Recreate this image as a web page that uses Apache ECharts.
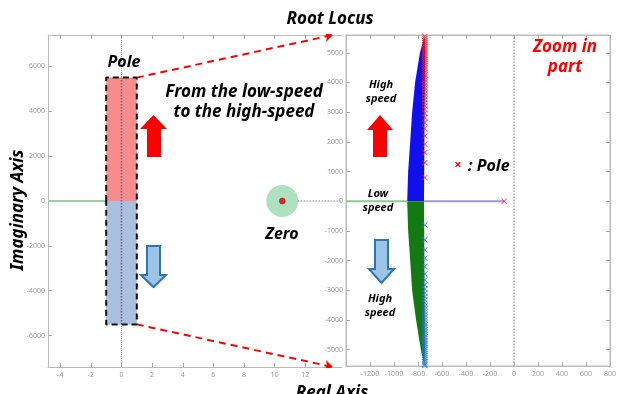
<!DOCTYPE html>
<html><head><meta charset="utf-8">
<script src="https://cdn.jsdelivr.net/npm/echarts@6/dist/echarts.min.js"></script>
<style>html,body{margin:0;padding:0;background:#fff}#c{width:619px;height:394px}</style>
</head><body><div id="c"></div>
<script>
// ---- data ----
const leftXTicks = [-4,-2,0,2,4,6,8,10,12];
const leftYTicks = [-6000,-4000,-2000,0,2000,4000,6000];
const rightXTicks = [-1200,-1000,-800,-600,-400,-200,0,200,400,600,800];
const rightYTicks = [-5000,-4000,-3000,-2000,-1000,0,1000,2000,3000,4000,5000];
// left panel
const poleBandUpper = [[-1,0],[1,5500]];
const poleBandLower = [[-1,-5500],[1,0]];
const poleBandOutline = [[-1,0],[-1,5500],[1,5500],[1,-5500],[-1,-5500],[-1,0]];
const poleColumn = [[0,-5500],[0,5500]];
const leftRealLine = [[-4.8,0],[-1,0]];
const zeroPoint = [[10.5,0]];
const zeroDotted = [[11.5,0],[14.4,0]];
const zoomLinkTop = [[1,5500],[13.8,7400]];
const zoomLinkBottom = [[1,-5500],[13.8,-7400]];
// right panel
const upperRegion = [[-890,0],[-882,1000],[-865,2000],[-849,3000],[-824,4000],[-784,5000],[-745,5560],[-740,5000],[-745,3000],[-748,1000],[-750,0]];
const lowerRegion = [[-890,0],[-882,-1000],[-865,-2000],[-849,-3000],[-816,-4000],[-776,-5000],[-745,-5540],[-742,-5000],[-745,-3000],[-748,-1000],[-750,0]];
const redPoleY = [800,1300,1640,1920,2200,2450,2650,2820,2960,3090,3210,3320,3430,3530,3630,3730,3820,3910,4000,4090,4170,4250,4330,4410,4490,4570,4640,4710,4780,4850,4920,4990,5060,5130,5200,5270,5340,5410,5480,5550];
const bluePoleY = [-800,-1300,-1640,-1920,-2200,-2450,-2650,-2820,-2960,-3090,-3210,-3320,-3430,-3530,-3630,-3730,-3820,-3910,-4000,-4090,-4170,-4250,-4330,-4410,-4490,-4570,-4640,-4710,-4780,-4850,-4920,-4990,-5060,-5130,-5200,-5270,-5340,-5410,-5480,-5530];
const poleReal = -743;
const realPole = [[-82,0]];
const rightGreenLine = [[-1400,0],[-890,0]];
const rightBlueLine = [[-750,0],[-82,0]];
const rightZeroLine = [[0,-5550],[0,5600]];

const crossPath = 'path://M0,1L1,0L5,4L9,0L10,1L6,5L10,9L9,10L5,6L1,10L0,9L4,5Z';
const FONT = '"Noto Sans", "DejaVu Sans", sans-serif';
const tickLbl = {fontSize:7, color:'#999', fontFamily:FONT, formatter:v=>String(v)};

function xAx(grid, min, max, ticks, pos, labels){
  return {type:'value', gridIndex:grid, min, max, position:pos,
    axisLine:{show:true, onZero:false, lineStyle:{color:'#bbb'}},
    axisTick:{show:true, inside:true, length:4, customValues:ticks, lineStyle:{color:'#aaa'}},
    axisLabel:Object.assign({show:labels, customValues:ticks, margin:4}, tickLbl),
    splitLine:{show:false}};
}
function yAx(grid, min, max, ticks, pos, labels){
  return {type:'value', gridIndex:grid, min, max, position:pos,
    axisLine:{show:true, onZero:false, lineStyle:{color:'#bbb'}},
    axisTick:{show:true, inside:true, length:4, customValues:ticks, lineStyle:{color:'#aaa'}},
    axisLabel:Object.assign({show:labels, customValues:ticks, margin:3}, tickLbl),
    splitLine:{show:false}};
}
function poly(xi, yi, pts, fill){
  return {type:'custom', xAxisIndex:xi, yAxisIndex:yi, data:[0], silent:true,
    renderItem:(p, api)=>({type:'polygon', shape:{points:pts.map(q=>api.coord(q))}, style:{fill:fill}})};
}
function rectPts(b){
  return [[b[0][0],b[0][1]],[b[1][0],b[0][1]],[b[1][0],b[1][1]],[b[0][0],b[1][1]]];
}
function ln(xi, yi, pts, style, z){
  return {type:'line', xAxisIndex:xi, yAxisIndex:yi, data:pts, symbol:'none', silent:true, z:z||2, lineStyle:style};
}
function txt(x, y, s, size, color, extra){
  return Object.assign({type:'text', x, y, z:100, style:{text:s, font:'italic bold '+size+'px '+FONT, fill:color||'#000', align:'center', verticalAlign:'middle', lineHeight:extra&&extra.lh||size+3}}, extra&&extra.el||{});
}

const chart = echarts.init(document.getElementById('c'));
chart.setOption({
  animation:false,
  backgroundColor:'#fff',
  grid:[
    {left:48, top:35, width:294, height:332, show:false},
    {left:346, top:35, width:269, height:331, show:true, backgroundColor:'#fff', borderColor:'#bbb', borderWidth:1}
  ],
  xAxis:[
    xAx(0,-4.8,14.4,leftXTicks,'bottom',true),
    xAx(0,-4.8,14.4,leftXTicks,'top',false),
    xAx(1,-1400,800,rightXTicks,'bottom',true),
    xAx(1,-1400,800,rightXTicks,'top',false)
  ],
  yAxis:[
    yAx(0,-7400,7400,leftYTicks,'left',true),
    yAx(1,-5550,5600,rightYTicks,'left',true),
    yAx(1,-5550,5600,rightYTicks,'right',false)
  ],
  series:[
    // left panel
    ln(0,0,[[0,-7400],[0,7400]],{color:'#aaa',width:1,type:'dotted'}),
    ln(0,0,leftRealLine,{color:'#9fcf9f',width:2}),
    poly(0,0,rectPts(poleBandUpper),'rgba(245,120,120,0.85)'),
    poly(0,0,rectPts(poleBandLower),'rgba(160,185,220,0.9)'),
    ln(0,0,poleColumn,{color:'#7a5a9a',width:1.5,type:'dotted'},4),
    ln(0,0,poleBandOutline,{color:'#111',width:2,type:[6,4]},5),
    ln(0,0,zeroDotted,{color:'#aaa',width:1.5,type:'dotted'}),
    {type:'scatter', xAxisIndex:0, yAxisIndex:0, data:zeroPoint, symbolSize:32, itemStyle:{color:'rgba(120,205,150,0.75)'}, silent:true, z:3},
    {type:'scatter', xAxisIndex:0, yAxisIndex:0, data:zeroPoint, symbolSize:6, itemStyle:{color:'#e00',borderColor:'#600',borderWidth:0.5}, silent:true, z:4},
    {type:'lines', coordinateSystem:'cartesian2d', xAxisIndex:0, yAxisIndex:0, silent:true, z:6,
      data:[{coords:zoomLinkTop},{coords:zoomLinkBottom}],
      symbol:['none','arrow'], symbolSize:8,
      lineStyle:{color:'#f00', width:2, type:[7,5], opacity:1}},
    // right panel
    ln(2,1,rightZeroLine,{color:'#aaa',width:1.5,type:'dotted'}),
    ln(2,1,rightGreenLine,{color:'#8fc88f',width:2}),
    ln(2,1,rightBlueLine,{color:'#9a9ad8',width:2}),
    poly(2,1,upperRegion,'#1010ee'),
    poly(2,1,lowerRegion,'#137a13'),
    {type:'scatter', xAxisIndex:2, yAxisIndex:1, symbol:crossPath, symbolSize:6, silent:true, z:5,
      data:redPoleY.map(v=>[poleReal,v]), itemStyle:{color:'#ff1010'}},
    {type:'scatter', xAxisIndex:2, yAxisIndex:1, symbol:crossPath, symbolSize:6, silent:true, z:5,
      data:bluePoleY.map(v=>[poleReal,v]), itemStyle:{color:'#1f70d8'}},
    {type:'scatter', xAxisIndex:2, yAxisIndex:1, symbol:crossPath, symbolSize:6, silent:true, z:5,
      data:realPole, itemStyle:{color:'#ff1010'}}
  ],
  graphic:[
    txt(330,19,'Root Locus',17),
    txt(18,210,'Imaginary Axis',17,'#000',{el:{rotation:Math.PI/2}}),
    txt(332,393,'Real Axis',17),
    txt(124,62,'Pole',16),
    txt(244,102,'From the low-speed\nto the high-speed',17,'#000',{lh:20}),
    txt(282,234,'Zero',16),
    txt(381,92,'High\nspeed',11,'#000',{lh:14}),
    txt(378,201,'Low\nspeed',11,'#000',{lh:14}),
    txt(380,306,'High\nspeed',11,'#000',{lh:14}),
    txt(565,57,'Zoom in\npart',17,'#f00',{lh:20}),
    {type:'text', x:458, y:165, z:100, style:{text:'×', font:'bold 13px '+FONT, fill:'#f00', align:'center', verticalAlign:'middle'}},
    {type:'text', x:468, y:166, z:100, style:{text:': Pole', font:'italic bold 16px '+FONT, fill:'#000', align:'left', verticalAlign:'middle'}},
    {type:'polygon', z:100, shape:{points:[[140,129],[153.5,115],[167,129],[161,129],[161,157],[147,157],[147,129]]}, style:{fill:'#ff0000'}},
    {type:'polygon', z:100, shape:{points:[[147,246],[160,246],[160,275],[166,275],[153.5,287],[141,275],[147,275]]}, style:{fill:'#9dc3e6', stroke:'#2e75b6', lineWidth:2}},
    {type:'polygon', z:100, shape:{points:[[367,130],[380,115],[393,130],[387,130],[387,157],[373,157],[373,130]]}, style:{fill:'#ff0000'}},
    {type:'polygon', z:100, shape:{points:[[375,240],[388,240],[388,269],[394,269],[381.5,283],[369,269],[375,269]]}, style:{fill:'#9dc3e6', stroke:'#2e75b6', lineWidth:2}}
  ]
});
</script></body></html>
